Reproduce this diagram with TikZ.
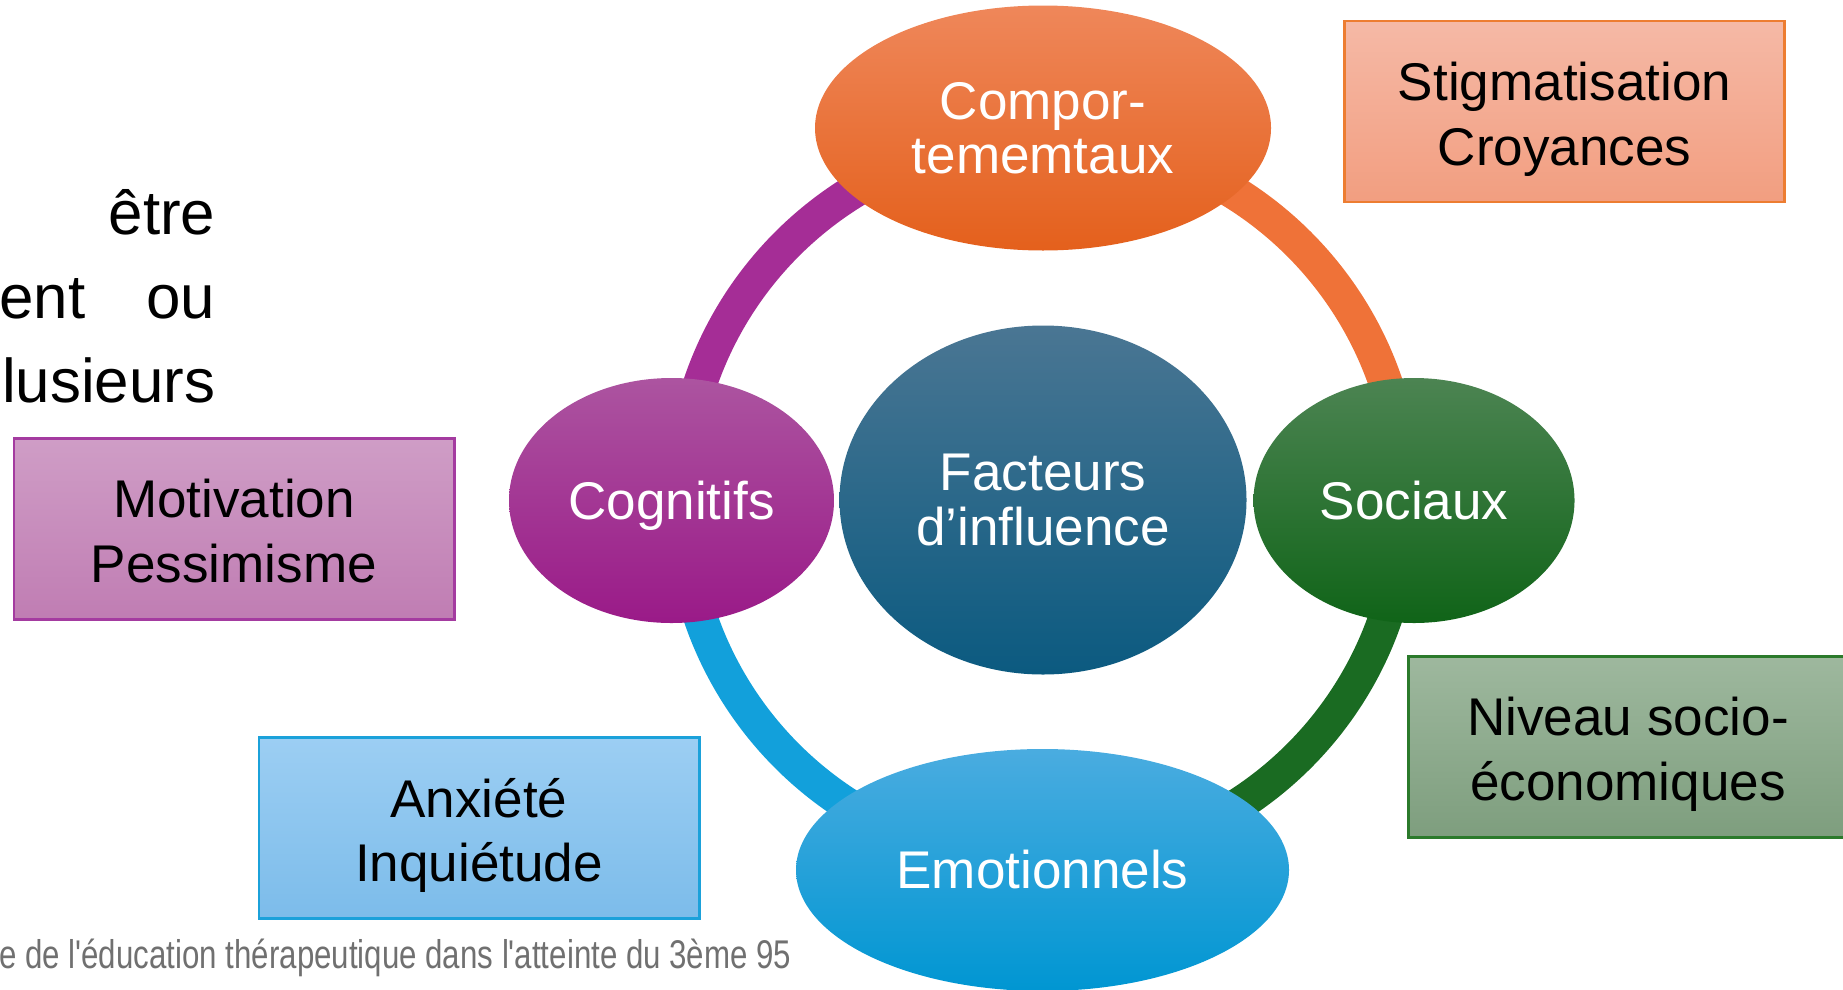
\documentclass[tikz,border=0pt]{standalone}
\usepackage{fontspec}
\setmainfont{Liberation Sans}
\newfontfamily\footfont[FakeStretch=0.78]{Liberation Sans}
\usetikzlibrary{shapes.geometric}
\usepackage{xcolor}
\newcommand{\ringrad}{3.62}
\newcommand{\topstrut}{\rule{0pt}{15.7pt}}
\newcommand{\botstrut}{\rule[-3.5pt]{0pt}{3.5pt}}
\definecolor{orgtop}{RGB}{239,135,90}
\definecolor{orgbot}{RGB}{228,96,28}
\definecolor{bluetop}{RGB}{74,118,147}
\definecolor{bluebot}{RGB}{11,90,128}
\definecolor{purtop}{RGB}{172,84,160}
\definecolor{purbot}{RGB}{154,26,136}
\definecolor{grntop}{RGB}{76,132,82}
\definecolor{grnbot}{RGB}{16,100,24}
\definecolor{skytop}{RGB}{74,172,224}
\definecolor{skybot}{RGB}{0,150,210}
\definecolor{purring}{RGB}{165,45,150}
\definecolor{orgring}{RGB}{239,114,56}
\definecolor{grnring}{RGB}{26,107,34}
\definecolor{skyring}{RGB}{18,160,219}
\definecolor{footgray}{RGB}{112,112,112}
\tikzset{
    ellsty/.style={ellipse,inner sep=0pt,text=white,align=center,font=\fontsize{15.1}{15.4}\selectfont},
    boxsty/.style={rectangle,line width=0.85pt,minimum width=4.4cm,minimum height=1.81cm,inner sep=0pt,align=center,font=\fontsize{15.1}{18.3}\selectfont},
    ringsty/.style={line width=0.34cm},
    leftsty/.style={inner sep=0pt,anchor=base east,font=\fontsize{17.6}{21}\selectfont},
    footsty/.style={inner sep=0pt,anchor=base east,text=footgray,font=\footfont\fontsize{11.4}{13}\selectfont},
}

\begin{document}
\begin{tikzpicture}
  \useasboundingbox (0,0) rectangle (18.43,9.89);

  % ring behind the ellipses
  \coordinate (ringc) at (10.43,4.89);
  \draw[ringsty,draw=orgring] (ringc) ++(0:\ringrad) arc[start angle=0,end angle=90,radius=\ringrad];
  \draw[ringsty,draw=purring] (ringc) ++(90:\ringrad) arc[start angle=90,end angle=180,radius=\ringrad];
  \draw[ringsty,draw=skyring] (ringc) ++(180:\ringrad) arc[start angle=180,end angle=270,radius=\ringrad];
  \draw[ringsty,draw=grnring] (ringc) ++(270:\ringrad) arc[start angle=270,end angle=360,radius=\ringrad];

  % ellipses
  \node[ellsty,minimum width=4.07cm,minimum height=3.49cm,top color=bluetop,bottom color=bluebot] (facteurs) at (ringc) {Facteurs\\d’influence};
  \node[ellsty,minimum width=4.56cm,minimum height=2.45cm,top color=orgtop,bottom color=orgbot] (compor) at (10.43,8.61) {Compor-\\tememtaux};
  \node[ellsty,text depth=0pt,minimum width=3.25cm,minimum height=2.45cm,top color=purtop,bottom color=purbot] (cognitifs) at (6.715,4.885) {Cognitifs};
  \node[ellsty,minimum width=3.21cm,minimum height=2.45cm,top color=grntop,bottom color=grnbot] (sociaux) at (14.14,4.885) {Sociaux};
  \node[ellsty,minimum width=4.93cm,minimum height=2.42cm,top color=skytop,bottom color=skybot] (emotion) at (10.425,1.19) {Emotionnels};

  % boxes
  \node[boxsty,draw={rgb,255:red,237;green,125;blue,49},top color={rgb,255:red,245;green,185;blue,166},bottom color={rgb,255:red,242;green,158;blue,128}] (stigma) at (15.645,8.775) {\topstrut Stigmatisation\\Croyances\botstrut};
  \node[boxsty,draw={rgb,255:red,164;green,59;blue,160},top color={rgb,255:red,207;green,157;blue,198},bottom color={rgb,255:red,192;green,125;blue,179}] (motiv) at (2.34,4.605) {\topstrut Motivation\\Pessimisme\botstrut};
  \node[boxsty,draw={rgb,255:red,27;green,161;blue,218},top color={rgb,255:red,156;green,206;blue,243},bottom color={rgb,255:red,124;green,188;blue,234}] (anxiete) at (4.79,1.61) {\topstrut Anxiété\\Inquiétude\botstrut};
  \node[boxsty,draw={rgb,255:red,43;green,122;blue,43},top color={rgb,255:red,158;green,184;blue,158},bottom color={rgb,255:red,126;green,158;blue,126}] (niveau) at (16.28,2.425) {\topstrut Niveau socio-\\économiques\botstrut};

  % cut text on the left
  \node[leftsty] (etre) at (2.16,7.55) {être};
  \node[leftsty] (ent) at (0.86,6.71) {ent};
  \node[leftsty] (ou) at (2.16,6.71) {ou};
  \node[leftsty] (plus) at (2.16,5.87) {lusieurs};

  % footer
  \node[footsty] (foot) at (7.92,0.21) {e de l'éducation thérapeutique dans l'atteinte du 3ème 95};
\end{tikzpicture}
\end{document}
